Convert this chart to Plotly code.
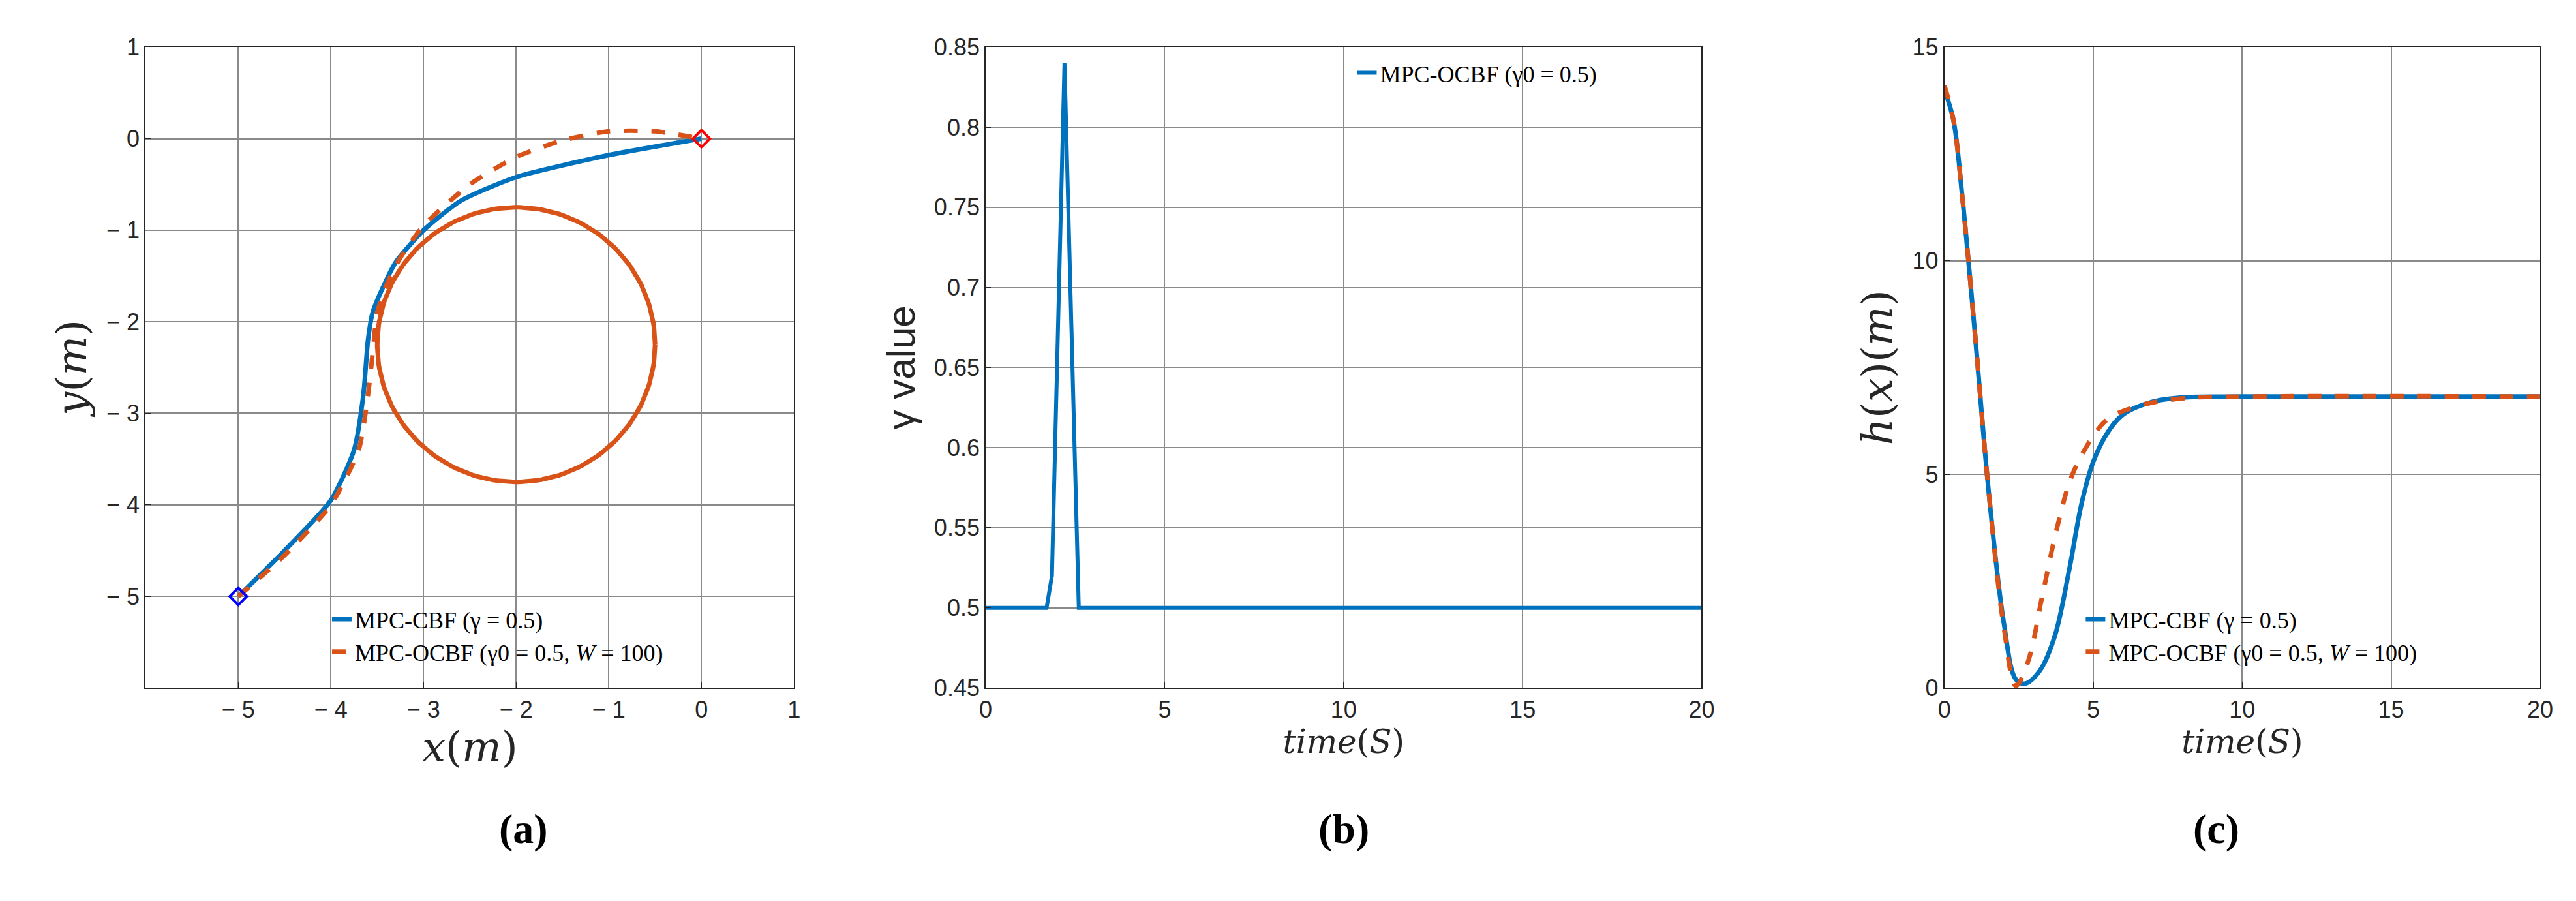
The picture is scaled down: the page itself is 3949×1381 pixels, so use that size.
import plotly.graph_objects as go
import numpy as np

# Panel (a) trajectories
cbf_x = [-5, -4.5, -4.0, -3.75, -3.65, -3.6, -3.55, -3.45, -3.3, -3.0, -2.6, -2.0, -1.0, 0]
cbf_y = [-5, -4.5, -3.95, -3.4, -2.8, -2.2, -1.9, -1.65, -1.35, -1.0, -0.68, -0.42, -0.18, 0]
ocbf_x = [-5, -4.5, -4.0, -3.7, -3.6, -3.55, -3.5, -3.4, -3.25, -3.0, -2.5, -2.0, -1.5, -1.0, -0.5, 0]
ocbf_y = [-5, -4.55, -4.0, -3.4, -2.8, -2.35, -1.9, -1.6, -1.3, -0.95, -0.5, -0.2, -0.02, 0.08, 0.08, 0]
obs_center = (-2.0, -2.25)
obs_radius = 1.5
start_pt = [-5, -5]
goal_pt = [0, 0]

# Panel (b) gamma
g_t = [0, 1.7, 1.85, 2.2, 2.6, 20]
g_v = [0.5, 0.5, 0.52, 0.84, 0.5, 0.5]

# Panel (c) h(x)
h_cbf_t = [0, 0.3, 0.6, 1.0, 1.5, 2.0, 2.4, 2.7, 3.2, 3.7, 4.2, 4.6, 5.0, 5.5, 6.0, 7.0, 8.0, 10.0, 20.0]
h_cbf_v = [14.0, 13.3, 11.5, 8.5, 4.5, 1.5, 0.2, 0.1, 0.4, 1.2, 2.8, 4.3, 5.3, 6.0, 6.4, 6.7, 6.8, 6.82, 6.82]
h_ocbf_t = [0, 0.3, 0.6, 1.0, 1.5, 2.0, 2.4, 2.8, 3.3, 3.8, 4.3, 5.0, 5.5, 6.5, 8.0, 10.0, 20.0]
h_ocbf_v = [14.1, 13.3, 11.5, 8.5, 4.5, 1.4, 0.05, 0.6, 2.2, 3.8, 5.0, 5.9, 6.3, 6.6, 6.78, 6.82, 6.82]

BLUE = "#0072BD"
ORANGE = "#D95319"

th = np.linspace(0, 2 * np.pi, 200)
circ_x = obs_center[0] + obs_radius * np.cos(th)
circ_y = obs_center[1] + obs_radius * np.sin(th)

fig = go.Figure()
fig.add_trace(go.Scatter(x=circ_x, y=circ_y, mode="lines", line=dict(color=ORANGE, width=7),
                         showlegend=False, xaxis="x", yaxis="y"))
fig.add_trace(go.Scatter(x=cbf_x, y=cbf_y, mode="lines", line=dict(color=BLUE, width=7, shape="spline", smoothing=0.6),
                         name="MPC-CBF (γ = 0.5)", legend="legend", xaxis="x", yaxis="y"))
fig.add_trace(go.Scatter(x=ocbf_x, y=ocbf_y, mode="lines",
                         line=dict(color=ORANGE, width=7, dash="dash", shape="spline", smoothing=0.6),
                         name="MPC-OCBF (γ0 = 0.5, <i>W</i> = 100)", legend="legend", xaxis="x", yaxis="y"))
fig.add_trace(go.Scatter(x=[start_pt[0]], y=[start_pt[1]], mode="markers",
                         marker=dict(symbol="diamond-open", size=20, color="blue", line=dict(width=4)),
                         showlegend=False, xaxis="x", yaxis="y"))
fig.add_trace(go.Scatter(x=[goal_pt[0]], y=[goal_pt[1]], mode="markers",
                         marker=dict(symbol="diamond-open", size=20, color="red", line=dict(width=4)),
                         showlegend=False, xaxis="x", yaxis="y"))

fig.add_trace(go.Scatter(x=g_t, y=g_v, mode="lines", line=dict(color=BLUE, width=6),
                         name="MPC-OCBF (γ0 = 0.5)", legend="legend2", xaxis="x2", yaxis="y2"))

fig.add_trace(go.Scatter(x=h_cbf_t, y=h_cbf_v, mode="lines", line=dict(color=BLUE, width=7, shape="spline"),
                         name="MPC-CBF (γ = 0.5)", legend="legend3", xaxis="x3", yaxis="y3"))
fig.add_trace(go.Scatter(x=h_ocbf_t, y=h_ocbf_v, mode="lines",
                         line=dict(color=ORANGE, width=7, dash="dash", shape="spline"),
                         name="MPC-OCBF (γ0 = 0.5, <i>W</i> = 100)", legend="legend3", xaxis="x3", yaxis="y3"))

tickfont = dict(family="Liberation Sans", size=36, color="#262626")
titlefont = dict(family="DejaVu Serif", size=64, color="#262626")
timefont = dict(family="DejaVu Serif", size=50, color="#262626")
common = dict(showline=True, linecolor="#262626", linewidth=2, mirror=True, showgrid=True,
              gridcolor="#8a8a8a", gridwidth=1.5, zeroline=False, tickfont=tickfont, ticks="inside",
              ticklen=8, tickcolor="#262626")

ticks_a = [-5, -4, -3, -2, -1, 0, 1]
tick_txt_a = ["− 5", "− 4", "− 3", "− 2", "− 1", "0", "1"]

legfont = dict(family="Liberation Serif", size=36, color="black")
ydom = [0.234, 0.967]
fig.update_layout(
    width=3949, height=1381, margin=dict(l=0, r=0, t=0, b=0),
    paper_bgcolor="white", plot_bgcolor="white",
    xaxis=dict(domain=[0.0524, 0.306], range=[-6, 1], tickvals=ticks_a, ticktext=tick_txt_a,
               title=dict(text="<i>x</i>(<i>m</i>)", font=titlefont, standoff=5), anchor="y", **common),
    yaxis=dict(domain=ydom, range=[-6, 1], tickvals=ticks_a, ticktext=tick_txt_a,
               title=dict(text="<i>y</i>(<i>m</i>)", font=titlefont, standoff=10), anchor="x", **common),
    xaxis2=dict(domain=[0.381, 0.661], range=[0, 20], tickvals=[0, 5, 10, 15, 20],
                title=dict(text="<i>time</i>(<i>S</i>)", font=timefont, standoff=5),
                anchor="y2", **common),
    yaxis2=dict(domain=ydom, range=[0.45, 0.85], dtick=0.05, tickformat=".2~f",
                title=dict(text="γ value", font=dict(family="Liberation Sans", size=60, color="#262626"), standoff=10),
                anchor="x2", **common),
    xaxis3=dict(domain=[0.756, 0.989], range=[0, 20], tickvals=[0, 5, 10, 15, 20],
                title=dict(text="<i>time</i>(<i>S</i>)", font=timefont, standoff=5),
                anchor="y3", **common),
    yaxis3=dict(domain=ydom, range=[0, 15], tickvals=[0, 5, 10, 15],
                title=dict(text="<i>h</i>(<i>x</i>)(<i>m</i>)", font=titlefont, standoff=10),
                anchor="x3", **common),
    legend=dict(x=0.124, y=0.335, xanchor="left", yanchor="top", bgcolor="rgba(0,0,0,0)",
                font=legfont, tracegroupgap=0),
    legend2=dict(x=0.525, y=0.96, xanchor="left", yanchor="top", bgcolor="rgba(0,0,0,0)",
                 font=legfont),
    legend3=dict(x=0.81, y=0.335, xanchor="left", yanchor="top", bgcolor="rgba(0,0,0,0)",
                 font=legfont),
    annotations=[
        dict(text="<b>(a)</b>", x=0.19, y=0.045, xref="paper", yref="paper", showarrow=False,
             font=dict(family="Liberation Serif", size=64, color="black")),
        dict(text="<b>(b)</b>", x=0.521, y=0.045, xref="paper", yref="paper", showarrow=False,
             font=dict(family="Liberation Serif", size=64, color="black")),
        dict(text="<b>(c)</b>", x=0.872, y=0.045, xref="paper", yref="paper", showarrow=False,
             font=dict(family="Liberation Serif", size=64, color="black")),
    ],
)
fig.write_html("out.html")
